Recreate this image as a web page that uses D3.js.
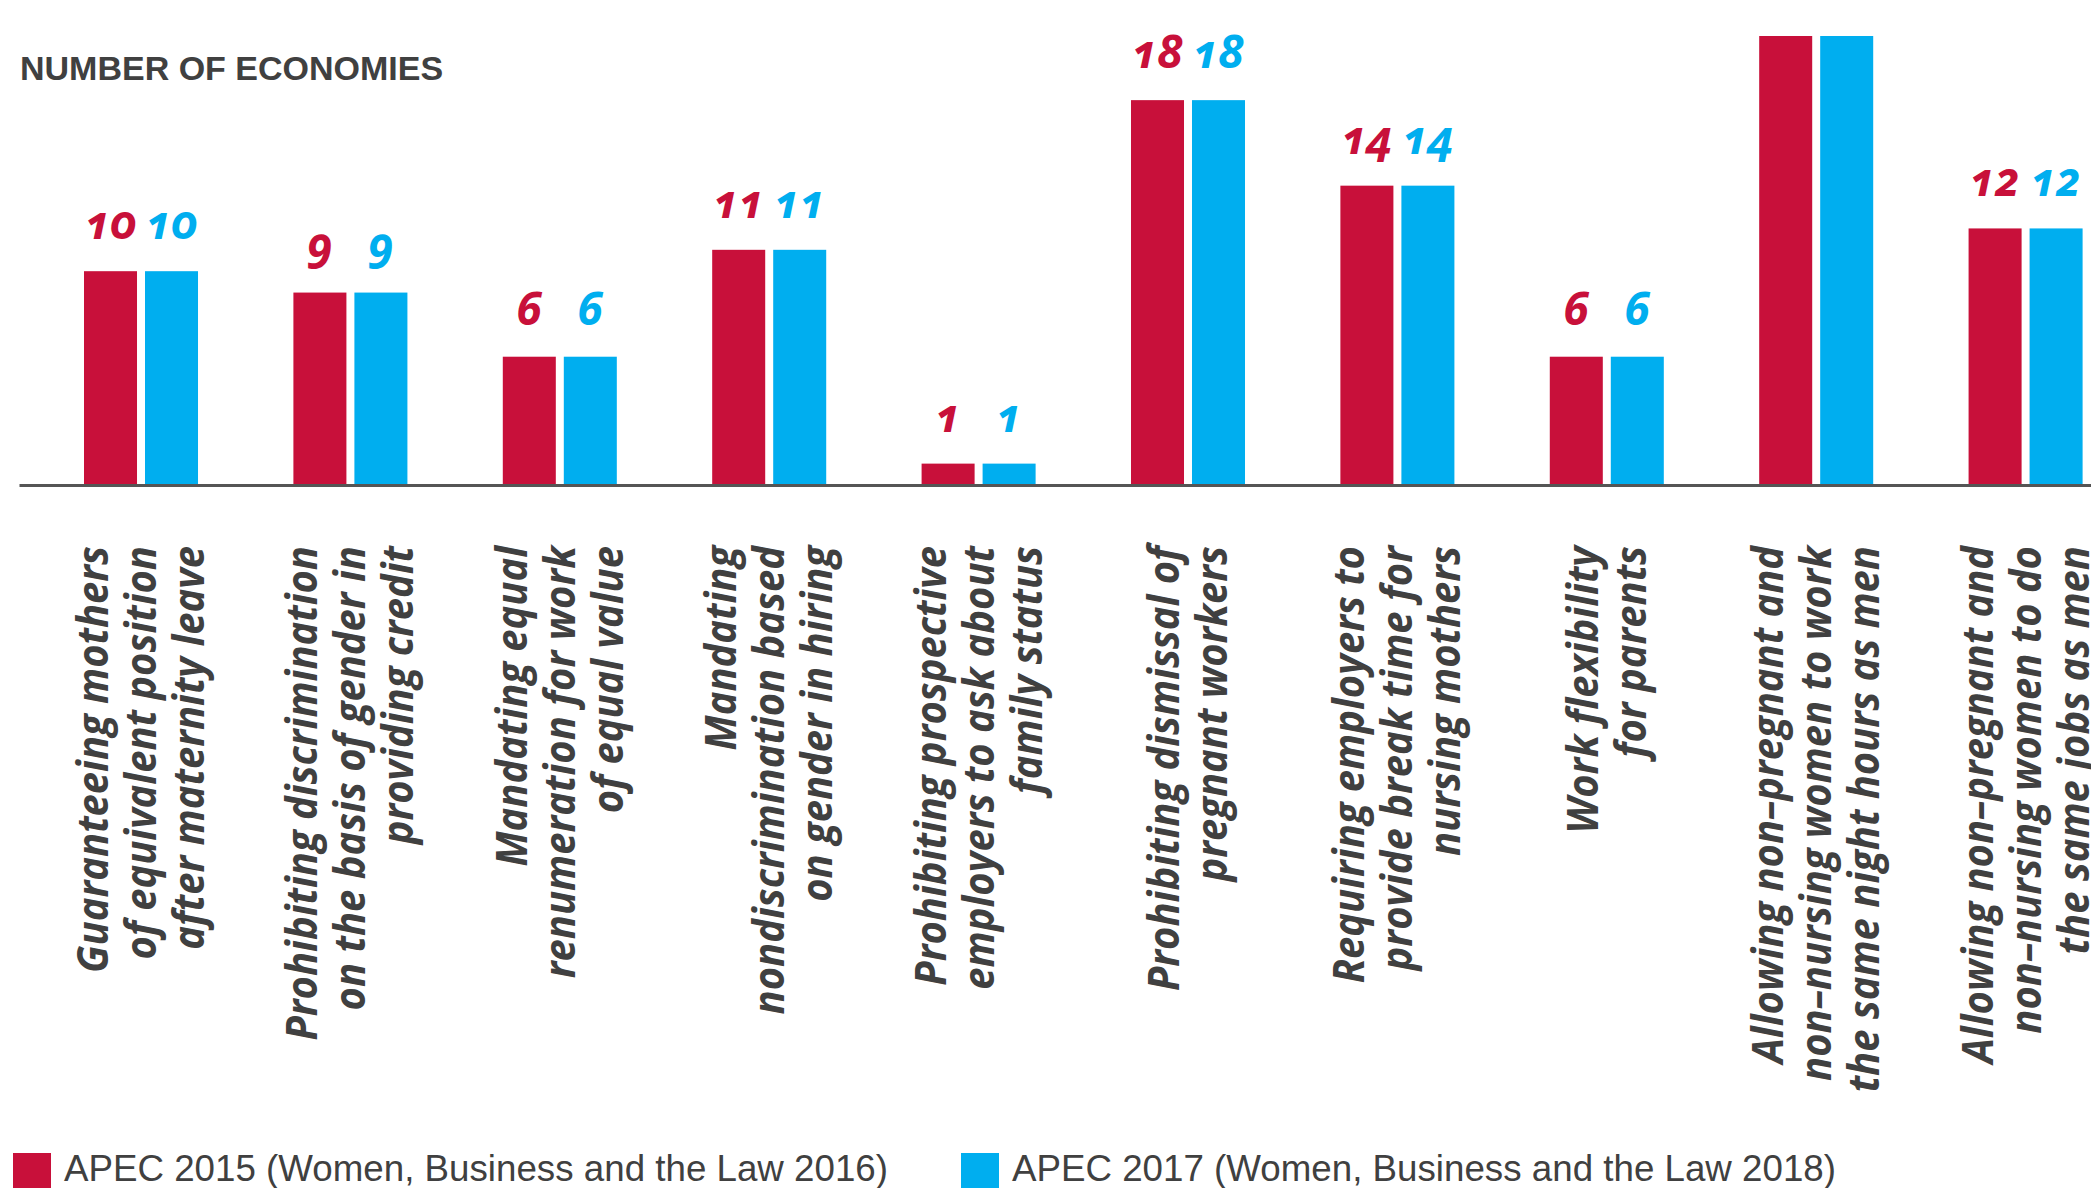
<!DOCTYPE html>
<html>
<head>
<meta charset="utf-8">
<script src="https://cdn.jsdelivr.net/npm/d3@7"></script>
<style>
  html, body { margin: 0; padding: 0; background: #fff; }
  svg { display: block; }
  .val { font-variant-numeric: oldstyle-nums; font-feature-settings: "onum" 1; }
</style>
</head>
<body>
<svg id="chart" width="2091" height="1188"></svg>
<script>
// ---- data ----
const categories = [
  ["Guaranteeing mothers", "of equivalent position", "after maternity leave"],
  ["Prohibiting discrimination", "on the basis of gender in", "providing credit"],
  ["Mandating equal", "renumeration for work", "of equal value"],
  ["Mandating", "nondiscrimination based", "on gender in hiring"],
  ["Prohibiting prospective", "employers to ask about", "family status"],
  ["Prohibiting dismissal of", "pregnant workers"],
  ["Requiring employers to", "provide break time for", "nursing mothers"],
  ["Work flexibility", "for parents"],
  ["Allowing non–pregnant and", "non–nursing women to work", "the same night hours as men"],
  ["Allowing non–pregnant and", "non–nursing women to do", "the same jobs as men"]
];
const seriesNames = ["APEC 2015 (Women, Business and the Law 2016)", "APEC 2017 (Women, Business and the Law 2018)"];
const apec2015 = [10, 9, 6, 11, 1, 18, 14, 6, 21, 12];
const apec2017 = [10, 9, 6, 11, 1, 18, 14, 6, 21, 12];
const showLabel = [true, true, true, true, true, true, true, true, false, true];
const yMax = 21;

const colors = ["#c8103a", "#00aeef"];
const textColor = "#404040";

const svg = d3.select("#chart");
const W = 2091, H = 1188;
const baseY = 485, topY = 36;

const x0 = d3.scaleBand()
  .domain(d3.range(categories.length))
  .range([84, 2082.6])
  .paddingInner(0.4555)
  .paddingOuter(0);

const x1 = d3.scaleBand()
  .domain([0, 1])
  .range([0, x0.bandwidth()])
  .paddingInner(0.131);

const y = d3.scaleLinear().domain([0, yMax]).range([baseY, topY]);

const data = categories.map((c, i) => ({ i, vals: [apec2015[i], apec2017[i]] }));

// title
svg.append("text")
  .attr("x", 20).attr("y", 80)
  .attr("font-family", "Liberation Sans, Arial, sans-serif")
  .attr("font-weight", 700)
  .attr("font-size", 34)
  .attr("fill", textColor)
  .text("NUMBER OF ECONOMIES");

// bars
const groups = svg.append("g").selectAll("g")
  .data(data).join("g")
  .attr("transform", d => `translate(${x0(d.i)},0)`);

groups.selectAll("rect")
  .data(d => d.vals.map((v, s) => ({ v, s })))
  .join("rect")
  .attr("x", d => x1(d.s))
  .attr("width", x1.bandwidth())
  .attr("y", d => y(d.v))
  .attr("height", d => y(0) - y(d.v))
  .attr("fill", d => colors[d.s]);

// value labels
groups.filter(d => showLabel[d.i]).selectAll("text.val")
  .data(d => d.vals.map((v, s) => ({ v, s })))
  .join("text")
  .attr("class", "val")
  .attr("x", d => x1(d.s) + x1.bandwidth() / 2)
  .attr("y", d => y(d.v) - 32)
  .attr("text-anchor", "middle")
  .attr("font-family", "Noto Sans, Open Sans, sans-serif")
  .attr("font-weight", 700)
  .attr("font-style", "italic")
  .attr("font-size", 46)
  .attr("fill", d => colors[d.s])
  .text(d => d.v);

// baseline axis
const axisScale = d3.scaleLinear().domain([0, 1]).range([19, W]);
const axis = d3.axisBottom(axisScale).tickValues([]).tickSizeOuter(0);
svg.append("g")
  .attr("transform", `translate(0,${y(0)})`)
  .call(axis)
  .call(g => g.select(".domain").attr("stroke", "#555").attr("stroke-width", 3));

// category labels (rotated)
const lineH = 48;
const labelTop = 546;
const catG = svg.append("g").selectAll("g")
  .data(data).join("g")
  .attr("transform", d => `translate(${x0(d.i) + x0.bandwidth() / 2},${labelTop}) rotate(-90)`);

const catText = catG.append("g").attr("class", "inner");
catText.each(function(d) {
  const lines = categories[d.i];
  const n = lines.length;
  d3.select(this).selectAll("text")
    .data(lines).join("text")
    .attr("x", 0)
    .attr("y", (l, k) => (k - (n - 1) / 2) * lineH + 15)
    .attr("text-anchor", "end")
    .attr("font-family", "Open Sans, sans-serif")
    .attr("font-weight", 700)
    .attr("font-style", "italic")
    .attr("font-size", 43)
    .attr("fill", textColor)
    .text(l => l);
});
// fit condensed width: "Guaranteeing mothers" spans ~427px in the reference
const refLen = catText.filter(d => d.i === 0).select("text").node().getComputedTextLength();
const sx = 427 / refLen;
catText.attr("transform", `scale(${sx},1)`);

// legend
const legend = svg.append("g");
const legX = [13, 961];
const legendItems = legend.selectAll("g").data(seriesNames).join("g")
  .attr("transform", (d, i) => `translate(${legX[i]},0)`);
legendItems.append("rect")
  .attr("x", 0).attr("y", 1153).attr("width", 38).attr("height", 40)
  .attr("fill", (d, i) => colors[i]);
legendItems.append("text")
  .attr("x", 51).attr("y", 1181)
  .attr("font-family", "Liberation Sans, Arial, sans-serif")
  .attr("font-size", 37)
  .attr("fill", textColor)
  .attr("textLength", 824)
  .attr("lengthAdjust", "spacingAndGlyphs")
  .text(d => d);
</script>
</body>
</html>
